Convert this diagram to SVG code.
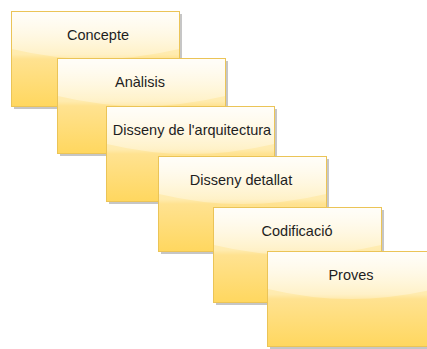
<svg xmlns="http://www.w3.org/2000/svg" xmlns:xlink="http://www.w3.org/1999/xlink" width="427" height="349" viewBox="0 0 427 349">
  <style>
    .label { font-family: "Liberation Sans", Arial, sans-serif; font-size: 14.5px; fill: #1e1e1e; text-anchor: middle; }
    .shadow { fill: #c6c6c6; }
    .face { fill: url(#faceFill); stroke: #ebc457; stroke-width: 1; }
    .gloss { fill: url(#glossFill); }
  </style>
  <defs>
    <linearGradient id="faceFill" x1="0" y1="0" x2="0" y2="1">
      <stop offset="0" stop-color="#fff6d8"/>
      <stop offset="0.45" stop-color="#ffebae"/>
      <stop offset="0.5" stop-color="#ffe290"/>
      <stop offset="1" stop-color="#ffd75f"/>
    </linearGradient>
    <linearGradient id="glossFill" x1="0" y1="0" x2="0" y2="1">
      <stop offset="0" stop-color="#ffffff" stop-opacity="0.85"/>
      <stop offset="1" stop-color="#ffffff" stop-opacity="0.25"/>
    </linearGradient>
    <!-- one stage card: drop shadow, yellow face, glossy top highlight -->
    <symbol id="card" overflow="visible">
      <rect class="shadow" x="3" y="3" width="168" height="95"/>
      <rect class="face" x="0.5" y="0.5" width="168" height="95"/>
      <path class="gloss" d="M1,1 H168 V38 Q84,58 1,38 Z"/>
    </symbol>
  </defs>

  <g id="connectors"/>

  <g id="concepte" transform="translate(11,11)">
    <use xlink:href="#card"/>
    <text class="label" x="87" y="29">Concepte</text>
  </g>
  <g id="analisis" transform="translate(57,58)">
    <use xlink:href="#card"/>
    <text class="label" x="83" y="29">Anàlisis</text>
  </g>
  <g id="disseny-arquitectura" transform="translate(106,106)">
    <use xlink:href="#card"/>
    <text class="label" x="86" y="29">Disseny de l'arquitectura</text>
  </g>
  <g id="disseny-detallat" transform="translate(158,156)">
    <use xlink:href="#card"/>
    <text class="label" x="83" y="29">Disseny detallat</text>
  </g>
  <g id="codificacio" transform="translate(213,207)">
    <use xlink:href="#card"/>
    <text class="label" x="84" y="29">Codificació</text>
  </g>
  <g id="proves" transform="translate(267,251)">
    <use xlink:href="#card"/>
    <text class="label" x="84" y="29">Proves</text>
  </g>
</svg>
